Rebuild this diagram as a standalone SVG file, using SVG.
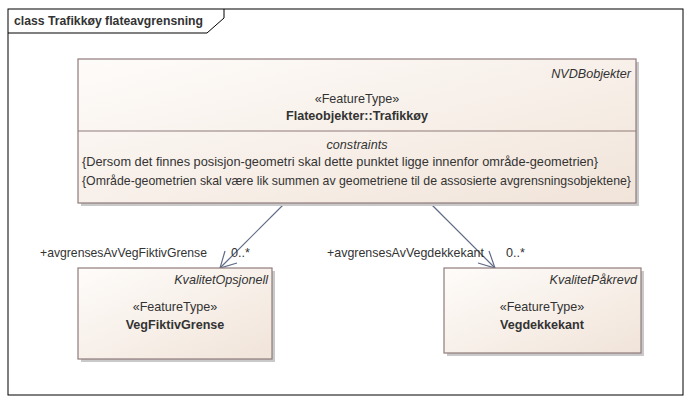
<svg xmlns="http://www.w3.org/2000/svg" width="690" height="403" viewBox="0 0 690 403">
<defs>
<linearGradient id="g" x1="0" y1="0" x2="1" y2="1">
<stop offset="0" stop-color="#fefcfa"/>
<stop offset="1" stop-color="#f1e4d9"/>
</linearGradient>
<style>
text{font-family:"Liberation Sans",Arial,sans-serif;font-size:12.6px;fill:#333333}
.b{font-weight:bold}
.i{font-style:italic}
.m{text-anchor:middle}
.r{text-anchor:end}
.box{fill:url(#g);stroke:#8f7b7b;stroke-width:1.2}
.sh{fill:#c9c9c9}
.c{fill:none;stroke:#5f6b86;stroke-width:1.2}
</style>
</defs>
<rect x="0" y="0" width="690" height="403" fill="#ffffff"/>
<g id="frame">
<rect x="8" y="9" width="675" height="386" fill="none" stroke="#000" stroke-width="1"/>
<path d="M8 33 H207 L224 18 V9" fill="none" stroke="#000" stroke-width="1"/>
<text x="14" y="25" class="b" textLength="189" lengthAdjust="spacingAndGlyphs">class Trafikkøy flateavgrensning</text>
</g>
<g id="connectors">
<path class="c" d="M285 203 L220 268"/>
<path class="c" d="M225 251 L220 268 L237 263"/>
<path class="c" d="M430 203 L495 268"/>
<path class="c" d="M489 251 L495 268 L478 263"/>
<text x="40" y="257" textLength="167" lengthAdjust="spacingAndGlyphs">+avgrensesAvVegFiktivGrense</text>
<text x="231" y="257">0..*</text>
<text x="327" y="257" textLength="157" lengthAdjust="spacingAndGlyphs">+avgrensesAvVegdekkekant</text>
<text x="506" y="257">0..*</text>
</g>
<g id="Trafikkoy">
<rect class="sh" x="81" y="62" width="558" height="144"/>
<rect class="box" x="78" y="59" width="558" height="144"/>
<line x1="78" y1="131" x2="636" y2="131" stroke="#8f7b7b" stroke-width="1.2"/>
<text x="631" y="78" class="i r">NVDBobjekter</text>
<text x="357" y="103" class="m">«FeatureType»</text>
<text x="357" y="120" class="m b">Flateobjekter::Trafikkøy</text>
<text x="357" y="149" class="m i">constraints</text>
<text x="82" y="166" textLength="516" lengthAdjust="spacingAndGlyphs">{Dersom det finnes posisjon-geometri skal dette punktet ligge innenfor område-geometrien}</text>
<text x="82" y="185" textLength="549" lengthAdjust="spacingAndGlyphs">{Område-geometrien skal være lik summen av geometriene til de assosierte avgrensningsobjektene}</text>
</g>
<g id="VegFiktivGrense">
<rect class="sh" x="81" y="271" width="194" height="91"/>
<rect class="box" x="78" y="268" width="194" height="91"/>
<text x="268" y="284" class="i r">KvalitetOpsjonell</text>
<text x="175" y="311" class="m">«FeatureType»</text>
<text x="175" y="329" class="m b">VegFiktivGrense</text>
</g>
<g id="Vegdekkekant">
<rect class="sh" x="447" y="271" width="197" height="85"/>
<rect class="box" x="444" y="268" width="197" height="85"/>
<text x="637" y="284" class="i r">KvalitetPåkrevd</text>
<text x="542" y="311" class="m">«FeatureType»</text>
<text x="542" y="329" class="m b">Vegdekkekant</text>
</g>
</svg>
